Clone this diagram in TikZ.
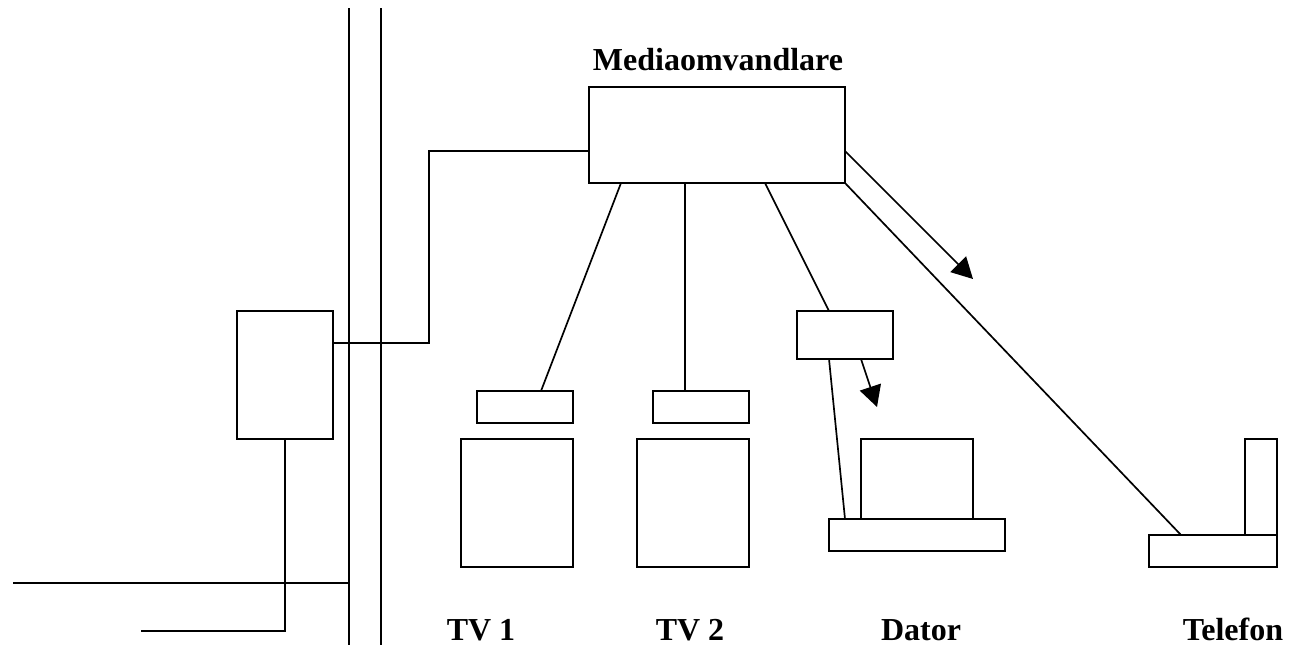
\documentclass[tikz,border=0pt]{standalone}
\usepackage{fontspec}
\setmainfont{Liberation Serif}
\usetikzlibrary{arrows.meta}
\tikzset{every picture/.style={line width=1.7pt}}
\tikzset{unit/.style={draw,rectangle,inner sep=0pt,outer sep=0pt}}
\tikzset{caption/.style={font=\fontsize{32}{36}\selectfont\bfseries,inner sep=0pt,anchor=base}}
\tikzset{flow/.style={-{Triangle[length=21pt,width=22pt]}}}

\begin{document}
\begin{tikzpicture}[x=1pt,y=-1pt]
    \useasboundingbox (0,0) rectangle (1291,645);
    % boxes
    \node[unit,minimum width=256pt,minimum height=96pt] (converter) at (717,135) {};
    \node[unit,minimum width=96pt,minimum height=128pt] (central) at (285,375) {};
    \node[unit,minimum width=96pt,minimum height=32pt] (boxa) at (525,407) {};
    \node[unit,minimum width=96pt,minimum height=32pt] (boxb) at (701,407) {};
    \node[unit,minimum width=112pt,minimum height=128pt] (tva) at (517,503) {};
    \node[unit,minimum width=112pt,minimum height=128pt] (tvb) at (693,503) {};
    \node[unit,minimum width=96pt,minimum height=48pt] (modem) at (845,335) {};
    \node[unit,minimum width=112pt,minimum height=80pt] (screen) at (917,479) {};
    \node[unit,minimum width=176pt,minimum height=32pt] (desk) at (917,535) {};
    \node[unit,minimum width=128pt,minimum height=32pt] (phone) at (1213,551) {};
    \node[unit,minimum width=32pt,minimum height=96pt] (handset) at (1261,487) {};

    % free ends
    \coordinate (walla) at (349,8);
    \coordinate (wallb) at (349,645);
    \coordinate (wallc) at (381,8);
    \coordinate (walld) at (381,645);
    \coordinate (linea) at (13,583);
    \coordinate (lineb) at (349,583);
    \coordinate (linec) at (141,631);
    \coordinate (bendc) at (285,631);
    \coordinate (arrowa) at (845,151);
    \coordinate (arrowb) at (973,279);
    \coordinate (arrowc) at (861,359);
    \coordinate (arrowd) at (877,407);

    % points where the cables meet the boxes
    \coordinate (centralout) at (333,343);
    \coordinate (benda) at (429,343);
    \coordinate (bendb) at (429,151);
    \coordinate (convin) at (589,151);
    \coordinate (convtva) at (621,183);
    \coordinate (tapa) at (541,391);
    \coordinate (convtvb) at (685,183);
    \coordinate (tapb) at (685,391);
    \coordinate (convmodem) at (765,183);
    \coordinate (modemin) at (829,311);
    \coordinate (modemout) at (829,359);
    \coordinate (deskin) at (845,519);
    \coordinate (phonein) at (1181,535);

    % walls and cables
    \draw (walla) -- (wallb);
    \draw (wallc) -- (walld);
    \draw (linea) -- (lineb);
    \draw (linec) -- (bendc) -- (central.south);
    \draw (centralout) -- (benda) -- (bendb) -- (convin);
    \draw (convtva) -- (tapa);
    \draw (convtvb) -- (tapb);
    \draw (convmodem) -- (modemin);
    \draw (modemout) -- (deskin);
    \draw (converter.south east) -- (phonein);

    % arrows
    \draw[flow] (arrowa) -- (arrowb);
    \draw[flow] (arrowc) -- (arrowd);

    % labels
    \node[caption] (title) at (718,70.5) {Mediaomvandlare};
    \node[caption] (tvone) at (481,640) {TV 1};
    \node[caption] (tvtwo) at (690,640) {TV 2};
    \node[caption] (computer) at (921,640) {Dator};
    \node[caption] (telephone) at (1233,640) {Telefon};
\end{tikzpicture}
\end{document}
